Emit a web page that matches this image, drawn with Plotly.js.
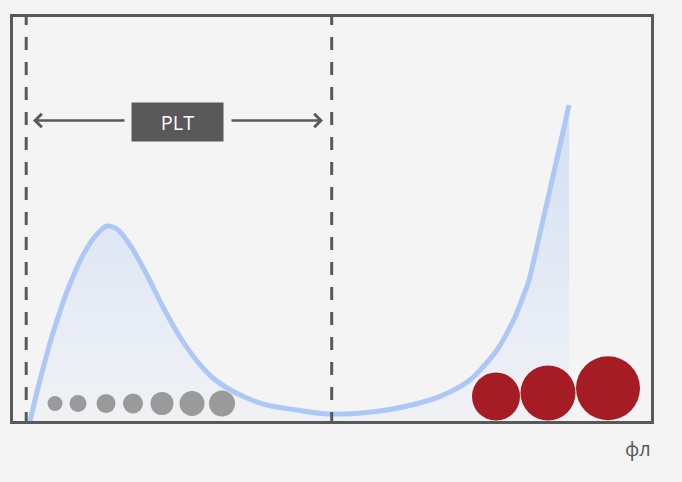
<!DOCTYPE html>
<html>
<head>
<meta charset="utf-8">
<script src="https://cdn.plot.ly/plotly-3.0.1.min.js"></script>
<style>
  html, body { margin: 0; padding: 0; background: #f4f4f4; }
  #chart { width: 682px; height: 482px; }
</style>
</head>
<body>
<div id="chart"></div>
<script>
// Volume distribution curve (arbitrary units)
const curveX = [17, 27, 40, 57, 74, 87, 94, 104, 117, 134, 150, 167, 184, 200, 214, 234, 254, 284, 317, 367, 417, 437, 457, 470, 484, 494, 502, 510, 516, 523, 530, 538, 545, 552, 556];
const curveY = [0, 41, 88, 137, 173, 190, 195, 192, 176, 146, 114, 84, 60, 43, 33, 23, 16, 11, 7, 10, 21, 29, 41, 54, 71, 88, 104, 124, 141, 170, 201, 236, 267, 298, 316];

// Platelets (grey dots)
const pltX = [42, 65, 93, 120, 149, 179, 209];
const pltY = [17.5, 17.5, 17.5, 17.5, 17.5, 17.5, 17.5];
const pltSize = [15, 17, 19, 20, 23, 25, 26];

// Red cells
const rbcX = [483, 535, 595];
const rbcY = [24.5, 28, 32.7];
const rbcSize = [48, 55, 64];

// PLT range limits
const limitX = [13.2, 318.7];
const limitYTop = 409;
const limitYBottom = -2;

// Label
const labelText = 'PLT';
const labelX = 164.5;
const labelY = 299;
const arrowY = 300.5;
const arrowLeft = {tail: 113, tip: 20};
const arrowRight = {tail: 217, tip: 310};
const unitText = 'фл';

const frameColor = '#595959';

const traces = [
  {
    x: curveX, y: curveY, type: 'scatter', mode: 'lines',
    line: {color: '#adc8f6', width: 5, shape: 'spline', smoothing: 1, simplify: false},
    fill: 'tozeroy',
    fillgradient: {
      type: 'vertical', start: 0, stop: 316,
      colorscale: [[0, 'rgba(236,239,245,0.6)'], [1, 'rgba(208,221,245,1)']]
    },
    hoverinfo: 'skip', showlegend: false
  },
  ...limitX.map(x => ({
    x: [x, x], y: [limitYTop, limitYBottom], type: 'scatter', mode: 'lines',
    line: {color: frameColor, width: 3, dash: '13px,12px'},
    hoverinfo: 'skip', showlegend: false
  })),
  {
    x: pltX, y: pltY, type: 'scatter', mode: 'markers',
    marker: {size: pltSize, color: '#9a9a9a', opacity: 1, line: {width: 0}},
    hoverinfo: 'skip', showlegend: false, cliponaxis: false
  },
  {
    x: rbcX, y: rbcY, type: 'scatter', mode: 'markers',
    marker: {size: rbcSize, color: '#a51c24', opacity: 1, line: {width: 0}},
    hoverinfo: 'skip', showlegend: false, cliponaxis: false
  }
];

const axisCommon = {
  showgrid: false, zeroline: false, showticklabels: false, ticks: '',
  showline: true, mirror: true, linewidth: 3, linecolor: frameColor,
  fixedrange: true
};

const layout = {
  width: 682, height: 482,
  margin: {l: 13, r: 31, t: 17, b: 61, pad: 0},
  paper_bgcolor: '#f4f4f4', plot_bgcolor: '#f4f4f4',
  font: {family: 'Open Sans, sans-serif', color: frameColor},
  xaxis: Object.assign({range: [0, 638]}, axisCommon),
  yaxis: Object.assign({range: [0, 404]}, axisCommon),
  annotations: [
    {
      x: labelX, y: labelY, xref: 'x', yref: 'y', text: labelText,
      showarrow: false, bgcolor: frameColor, width: 91, height: 38,
      borderpad: 0, font: {size: 20, color: '#ffffff', family: 'Open Sans, sans-serif'},
      xanchor: 'center', yanchor: 'middle'
    },
    {
      x: arrowLeft.tip, y: arrowY, ax: arrowLeft.tail, ay: arrowY,
      xref: 'x', yref: 'y', axref: 'x', ayref: 'y', text: '',
      showarrow: true, arrowhead: 4, arrowsize: 1, arrowwidth: 2.6, arrowcolor: frameColor
    },
    {
      x: arrowRight.tip, y: arrowY, ax: arrowRight.tail, ay: arrowY,
      xref: 'x', yref: 'y', axref: 'x', ayref: 'y', text: '',
      showarrow: true, arrowhead: 4, arrowsize: 1, arrowwidth: 2.6, arrowcolor: frameColor
    },
    {
      x: 1, y: -0.067, xref: 'paper', yref: 'paper', text: unitText,
      showarrow: false, xanchor: 'right', yanchor: 'middle', borderpad: 0, xshift: 1,
      font: {size: 20, color: frameColor, family: 'Open Sans, sans-serif'}
    }
  ]
};

Plotly.newPlot('chart', traces, layout, {displayModeBar: false, staticPlot: true});
</script>
</body>
</html>
